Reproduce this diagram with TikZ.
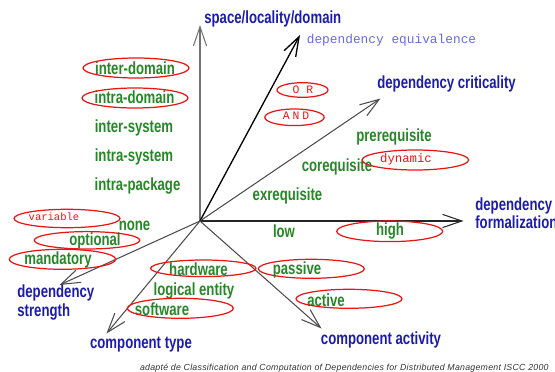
\documentclass[tikz,border=0pt]{standalone}
\usepackage{fontspec}
\setmainfont{Liberation Sans}
\newfontfamily\narrowfont[FakeStretch=0.75]{Liberation Sans}
\newfontfamily\tagfont{Liberation Mono}
\usetikzlibrary{arrows.meta}
\definecolor{axisblue}{RGB}{28,28,170}
\definecolor{valgreen}{RGB}{38,135,38}
\definecolor{equivblue}{RGB}{105,105,225}
\definecolor{ovalred}{RGB}{235,20,20}

\begin{document}
\begin{tikzpicture}[
        x=0.02cm, y=-0.02cm,
        >={Straight Barb[length=11pt,width=7.5pt]},
        axis/.style={->, draw=black!70, line width=0.6pt},
        axislabel/.style={inner sep=0pt, text=axisblue, font=\narrowfont\bfseries\fontsize{10}{8.4}\selectfont},
        value/.style={inner sep=0pt, text=valgreen, font=\narrowfont\bfseries\fontsize{10}{10}\selectfont},
        tag/.style={inner sep=0pt, text=ovalred, font=\tagfont\fontsize{7}{7}\selectfont},
        oval/.style={draw=ovalred, line width=0.7pt}
    ]
    \useasboundingbox (0,0) rectangle (555,372);

        % Axes
        \coordinate (origin) at (200,221);
        \coordinate (spaceend) at (200,25);
        \coordinate (equivend) at (300,35);
        \coordinate (criticend) at (380.5,98.5);
        \coordinate (formalend) at (463.5,221);
        \coordinate (activityend) at (321.5,328.5);
        \coordinate (ctypeend) at (106.5,333.5);
        \coordinate (strengthend) at (59.5,285);

        \draw[axis, draw=black!55] (origin) -- (spaceend);
        \draw[axis, draw=black, line width=0.75pt] (origin) -- (equivend);
        \draw[axis] (origin) -- (criticend);
        \draw[axis, draw=black!85] (origin) -- (formalend);
        \draw[axis] (origin) -- (activityend);
        \draw[axis] (origin) -- (ctypeend);
        \draw[axis] (origin) -- (strengthend);

        % Axis labels
        \node[axislabel, anchor=west] (space) at (204,19) {space/locality/domain};
        \node[inner sep=0pt, anchor=west, text=equivblue, font=\tagfont\fontsize{7.3}{7.3}\selectfont] (equiv) at (306.5,40.5) {dependency equivalence};
        \node[axislabel, anchor=west] (critic) at (377,83.5) {dependency criticality};
        \node[axislabel, anchor=west, align=left] (formal) at (475,213.5) {dependency\\formalization};
        \node[axislabel] (activity) at (381,339.5) {component activity};
        \node[axislabel] (ctype) at (141,344.5) {component type};
        \node[axislabel, anchor=west, align=left] (strength) at (17,302.5) {dependency\\strength};

        % Values
        \node[value] (interdomain) at (135,68) {inter-domain};
        \node[value] (intradomain) at (134.5,97) {intra-domain};
        \node[value] (intersystem) at (134,128) {inter-system};
        \node[value] (intrasystem) at (134,157) {intra-system};
        \node[value] (intrapackage) at (137.5,186) {intra-package};
        \node[value] (prereq) at (394,137) {prerequisite};
        \node[value] (coreq) at (337,167) {corequisite};
        \node[value] (exreq) at (287.5,196) {exrequisite};
        \node[value] (low) at (284,231) {low};
        \node[value] (high) at (390,231) {high};
        \node[value] (none) at (134.5,225.5) {none};
        \node[value] (optional) at (95,241) {optional};
        \node[value] (mandatory) at (58,260) {mandatory};
        \node[value] (hardware) at (198.5,269.5) {hardware};
        \node[value] (logical) at (194,290.5) {logical entity};
        \node[value] (software) at (162,309.5) {software};
        \node[value] (passive) at (297,270) {passive};
        \node[value] (active) at (326,300) {active};

        % Tags
        \node[tag, font=\tagfont\fontsize{6.5}{6.5}\selectfont\addfontfeature{LetterSpace=60}] (or) at (303,89.5) {OR};
        \node[tag, font=\tagfont\fontsize{6.5}{6.5}\selectfont\addfontfeature{LetterSpace=25}] (and) at (296,115.5) {AND};
        \node[tag] (dynamic) at (406,159.5) {dynamic};
        \node[tag, font=\tagfont\fontsize{6}{6}\selectfont] (variable) at (54,217) {variable};

        % Ovals
        \draw[oval] (136,68) ellipse (53 and 10);
        \draw[oval] (135,98) ellipse (53 and 10);
        \draw[oval] (302.5,90) ellipse (25.5 and 7.3);
        \draw[oval] (294.5,117.3) ellipse (29.7 and 8.3);
        \draw[oval] (415.3,160) ellipse (53.3 and 10);
        \draw[oval] (389.7,231.3) ellipse (53 and 10.3);
        \draw[oval] (67,218.5) ellipse (53 and 9.2);
        \draw[oval] (87,240.3) ellipse (52.8 and 8.7);
        \draw[oval] (62.5,259.3) ellipse (53.2 and 10);
        \draw[oval] (203.3,268.3) ellipse (52.7 and 8.3);
        \draw[oval] (180.3,308.3) ellipse (53 and 10);
        \draw[oval] (311.3,268.8) ellipse (53 and 9.5);
        \draw[oval] (349,298.8) ellipse (53 and 9.5);

        % Source
        \node[inner sep=0pt, anchor=east, text=black!80, font=\itshape\fontsize{5}{5}\selectfont\addfontfeature{LetterSpace=3}] (source) at (549,368) {adapté de Classification and Computation of Dependencies for Distributed Management ISCC 2000};

    \end{tikzpicture}
\end{document}
